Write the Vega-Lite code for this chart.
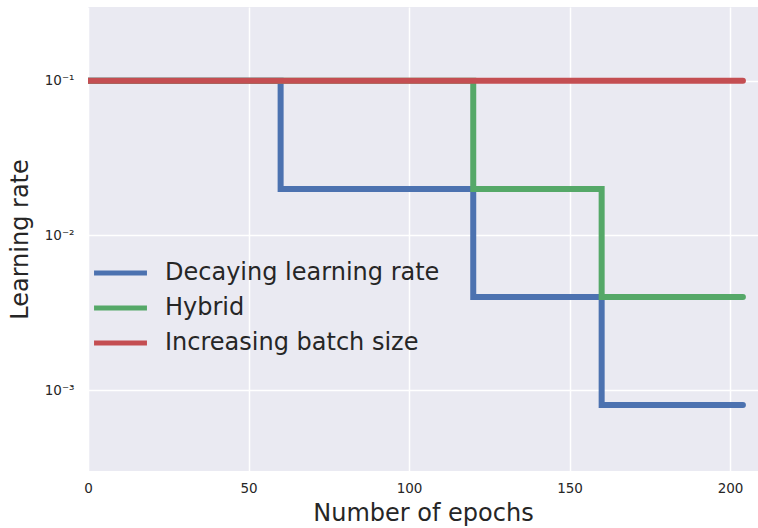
{
  "$schema": "https://vega.github.io/schema/vega-lite/v6.json",
  "width": 670,
  "height": 464,
  "autosize": "none",
  "padding": {"left": 88, "top": 7, "right": 0, "bottom": 57},
  "background": "white",
  "config": {
    "font": "DejaVu Sans",
    "view": {"fill": "#EAEAF2", "stroke": null}
  },
  "data": {
    "values": [
      {"schedule": "Decaying learning rate", "epoch": 0, "lr": 0.1},
      {"schedule": "Decaying learning rate", "epoch": 60, "lr": 0.02},
      {"schedule": "Decaying learning rate", "epoch": 120, "lr": 0.004},
      {"schedule": "Decaying learning rate", "epoch": 160, "lr": 0.0008},
      {"schedule": "Decaying learning rate", "epoch": 204, "lr": 0.0008},
      {"schedule": "Hybrid", "epoch": 0, "lr": 0.1},
      {"schedule": "Hybrid", "epoch": 120, "lr": 0.02},
      {"schedule": "Hybrid", "epoch": 160, "lr": 0.004},
      {"schedule": "Hybrid", "epoch": 204, "lr": 0.004},
      {"schedule": "Increasing batch size", "epoch": 0, "lr": 0.1},
      {"schedule": "Increasing batch size", "epoch": 204, "lr": 0.1}
    ]
  },
  "mark": {
    "type": "line",
    "interpolate": "step-after",
    "strokeWidth": 6,
    "strokeCap": "round",
    "strokeJoin": "miter",
    "clip": true
  },
  "encoding": {
    "x": {
      "field": "epoch",
      "type": "quantitative",
      "scale": {"domain": [0, 208.7], "nice": false, "zero": false},
      "axis": {
        "title": "Number of epochs",
        "values": [0, 50, 100, 150, 200],
        "grid": true,
        "gridColor": "white",
        "gridWidth": 1.5,
        "domain": false,
        "ticks": false,
        "labelFontSize": 13.5,
        "labelColor": "#262626",
        "labelPadding": 10,
        "labelFlush": false,
        "titleFontSize": 24,
        "titleFontWeight": "normal",
        "titleColor": "#262626",
        "titlePadding": 7
      }
    },
    "y": {
      "field": "lr",
      "type": "quantitative",
      "scale": {"type": "log", "domain": [0.0003, 0.3], "nice": false},
      "axis": {
        "title": "Learning rate",
        "values": [0.001, 0.01, 0.1],
        "labelExpr": "datum.value > 0.05 ? '10⁻¹' : datum.value > 0.005 ? '10⁻²' : '10⁻³'",
        "grid": true,
        "gridColor": "white",
        "gridWidth": 1.5,
        "domain": false,
        "ticks": false,
        "labelFontSize": 13.5,
        "labelColor": "#262626",
        "labelPadding": 14,
        "titleFontSize": 24,
        "titleFontWeight": "normal",
        "titleColor": "#262626",
        "titlePadding": 12
      }
    },
    "color": {
      "field": "schedule",
      "type": "nominal",
      "scale": {
        "domain": ["Decaying learning rate", "Hybrid", "Increasing batch size"],
        "range": ["#4C72B0", "#55A868", "#C44E52"]
      },
      "legend": {
        "title": null,
        "orient": "none",
        "legendX": 16.5,
        "legendY": 250,
        "symbolType": "M-2,0L2,0",
        "symbolSize": 700,
        "symbolStrokeWidth": 5,
        "labelFontSize": 24,
        "labelColor": "#262626",
        "labelOffset": 28.5,
        "rowPadding": 7,
        "labelLimit": 400
      }
    }
  }
}
